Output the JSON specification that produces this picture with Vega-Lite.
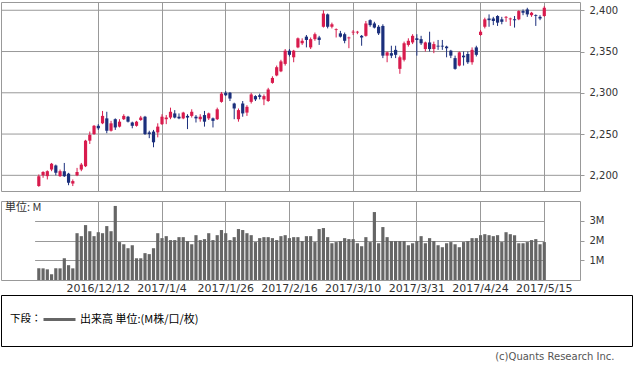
{
 "$schema": "https://vega.github.io/schema/vega-lite/v6.json",
 "padding": {"left": 0, "top": 1, "right": 0, "bottom": 0},
 "background": "white",
 "datasets": {"px": [
  {"d":"2016/11/21","o":2187,"h":2201,"l":2186,"c":2199,"v":0.59},
  {"d":"2016/11/22","o":2200,"h":2205,"l":2197,"c":2204,"v":0.59},
  {"d":"2016/11/23","o":2199,"h":2206,"l":2195,"c":2205,"v":0.54},
  {"d":"2016/11/25","o":2207,"h":2215,"l":2205,"c":2214,"v":0.29},
  {"d":"2016/11/28","o":2212,"h":2213,"l":2200,"c":2203,"v":0.59},
  {"d":"2016/11/29","o":2199,"h":2207,"l":2198,"c":2205,"v":0.59},
  {"d":"2016/11/30","o":2205,"h":2215,"l":2198,"c":2199,"v":1.10},
  {"d":"2016/12/1","o":2202,"h":2203,"l":2188,"c":2191,"v":0.75},
  {"d":"2016/12/2","o":2190,"h":2195,"l":2187,"c":2193,"v":0.59},
  {"d":"2016/12/5","o":2200,"h":2209,"l":2199,"c":2204,"v":2.37},
  {"d":"2016/12/6","o":2207,"h":2215,"l":2205,"c":2213,"v":2.22},
  {"d":"2016/12/7","o":2211,"h":2243,"l":2210,"c":2242,"v":2.78},
  {"d":"2016/12/8","o":2242,"h":2253,"l":2238,"c":2249,"v":2.47},
  {"d":"2016/12/9","o":2250,"h":2261,"l":2249,"c":2260,"v":2.22},
  {"d":"2016/12/12","o":2260,"h":2262,"l":2255,"c":2257,"v":2.42},
  {"d":"2016/12/13","o":2263,"h":2278,"l":2262,"c":2272,"v":2.37},
  {"d":"2016/12/14","o":2269,"h":2277,"l":2251,"c":2254,"v":2.73},
  {"d":"2016/12/15","o":2254,"h":2266,"l":2253,"c":2263,"v":2.47},
  {"d":"2016/12/16","o":2268,"h":2269,"l":2255,"c":2258,"v":3.75},
  {"d":"2016/12/19","o":2259,"h":2268,"l":2258,"c":2265,"v":1.92},
  {"d":"2016/12/20","o":2268,"h":2274,"l":2267,"c":2272,"v":1.81},
  {"d":"2016/12/21","o":2271,"h":2272,"l":2264,"c":2265,"v":1.61},
  {"d":"2016/12/22","o":2264,"h":2265,"l":2257,"c":2260,"v":1.76},
  {"d":"2016/12/23","o":2260,"h":2266,"l":2259,"c":2265,"v":1.10},
  {"d":"2016/12/27","o":2267,"h":2272,"l":2266,"c":2270,"v":1.10},
  {"d":"2016/12/28","o":2271,"h":2272,"l":2249,"c":2250,"v":1.36},
  {"d":"2016/12/29","o":2252,"h":2254,"l":2245,"c":2250,"v":1.31},
  {"d":"2016/12/30","o":2253,"h":2255,"l":2234,"c":2240,"v":1.61},
  {"d":"2017/1/3","o":2252,"h":2263,"l":2246,"c":2259,"v":2.37},
  {"d":"2017/1/4","o":2262,"h":2274,"l":2261,"c":2271,"v":2.12},
  {"d":"2017/1/5","o":2268,"h":2273,"l":2262,"c":2270,"v":2.22},
  {"d":"2017/1/6","o":2270,"h":2282,"l":2268,"c":2277,"v":2.02},
  {"d":"2017/1/9","o":2275,"h":2279,"l":2269,"c":2270,"v":2.02},
  {"d":"2017/1/10","o":2271,"h":2275,"l":2268,"c":2269,"v":2.17},
  {"d":"2017/1/11","o":2269,"h":2277,"l":2268,"c":2276,"v":2.17},
  {"d":"2017/1/12","o":2272,"h":2274,"l":2256,"c":2270,"v":1.97},
  {"d":"2017/1/13","o":2272,"h":2280,"l":2270,"c":2277,"v":1.81},
  {"d":"2017/1/17","o":2271,"h":2273,"l":2264,"c":2269,"v":2.27},
  {"d":"2017/1/18","o":2268,"h":2274,"l":2265,"c":2271,"v":2.02},
  {"d":"2017/1/19","o":2273,"h":2278,"l":2259,"c":2265,"v":2.07},
  {"d":"2017/1/20","o":2269,"h":2276,"l":2267,"c":2275,"v":2.37},
  {"d":"2017/1/23","o":2269,"h":2270,"l":2258,"c":2266,"v":2.02},
  {"d":"2017/1/24","o":2268,"h":2282,"l":2267,"c":2280,"v":2.27},
  {"d":"2017/1/25","o":2289,"h":2301,"l":2288,"c":2299,"v":2.53},
  {"d":"2017/1/26","o":2300,"h":2302,"l":2296,"c":2297,"v":2.37},
  {"d":"2017/1/27","o":2300,"h":2301,"l":2290,"c":2293,"v":2.02},
  {"d":"2017/1/30","o":2287,"h":2288,"l":2268,"c":2281,"v":2.17},
  {"d":"2017/1/31","o":2268,"h":2281,"l":2265,"c":2279,"v":2.58},
  {"d":"2017/2/1","o":2287,"h":2290,"l":2271,"c":2275,"v":2.53},
  {"d":"2017/2/2","o":2276,"h":2285,"l":2272,"c":2283,"v":2.37},
  {"d":"2017/2/3","o":2289,"h":2300,"l":2287,"c":2298,"v":2.27},
  {"d":"2017/2/6","o":2296,"h":2297,"l":2290,"c":2292,"v":1.92},
  {"d":"2017/2/7","o":2297,"h":2299,"l":2292,"c":2295,"v":2.12},
  {"d":"2017/2/8","o":2292,"h":2298,"l":2285,"c":2296,"v":2.17},
  {"d":"2017/2/9","o":2290,"h":2306,"l":2289,"c":2304,"v":2.17},
  {"d":"2017/2/10","o":2312,"h":2320,"l":2311,"c":2318,"v":2.12},
  {"d":"2017/2/13","o":2321,"h":2333,"l":2320,"c":2331,"v":2.02},
  {"d":"2017/2/14","o":2326,"h":2340,"l":2325,"c":2338,"v":2.22},
  {"d":"2017/2/15","o":2335,"h":2353,"l":2333,"c":2351,"v":2.27},
  {"d":"2017/2/16","o":2351,"h":2353,"l":2344,"c":2346,"v":2.12},
  {"d":"2017/2/17","o":2343,"h":2352,"l":2337,"c":2351,"v":2.17},
  {"d":"2017/2/21","o":2355,"h":2367,"l":2354,"c":2366,"v":2.17},
  {"d":"2017/2/22","o":2360,"h":2366,"l":2358,"c":2363,"v":1.97},
  {"d":"2017/2/23","o":2368,"h":2370,"l":2355,"c":2364,"v":2.22},
  {"d":"2017/2/24","o":2355,"h":2367,"l":2353,"c":2365,"v":2.22},
  {"d":"2017/2/27","o":2365,"h":2373,"l":2363,"c":2371,"v":1.92},
  {"d":"2017/2/28","o":2367,"h":2369,"l":2358,"c":2364,"v":2.58},
  {"d":"2017/3/1","o":2380,"h":2400,"l":2379,"c":2396,"v":2.63},
  {"d":"2017/3/2","o":2395,"h":2396,"l":2378,"c":2380,"v":2.17},
  {"d":"2017/3/3","o":2380,"h":2385,"l":2378,"c":2383,"v":1.86},
  {"d":"2017/3/6","o":2376,"h":2378,"l":2367,"c":2377,"v":1.92},
  {"d":"2017/3/7","o":2372,"h":2375,"l":2367,"c":2368,"v":1.97},
  {"d":"2017/3/8","o":2371,"h":2373,"l":2360,"c":2363,"v":2.12},
  {"d":"2017/3/9","o":2366,"h":2368,"l":2354,"c":2367,"v":2.07},
  {"d":"2017/3/10","o":2373,"h":2376,"l":2370,"c":2374,"v":2.07},
  {"d":"2017/3/13","o":2373,"h":2375,"l":2371,"c":2374,"v":1.86},
  {"d":"2017/3/14","o":2369,"h":2370,"l":2357,"c":2367,"v":1.71},
  {"d":"2017/3/15","o":2369,"h":2387,"l":2368,"c":2384,"v":2.17},
  {"d":"2017/3/16","o":2388,"h":2389,"l":2380,"c":2382,"v":1.92},
  {"d":"2017/3/17","o":2384,"h":2386,"l":2378,"c":2379,"v":3.44},
  {"d":"2017/3/20","o":2380,"h":2382,"l":2370,"c":2372,"v":1.86},
  {"d":"2017/3/21","o":2381,"h":2383,"l":2342,"c":2345,"v":2.68},
  {"d":"2017/3/22","o":2345,"h":2350,"l":2337,"c":2349,"v":2.17},
  {"d":"2017/3/23","o":2348,"h":2357,"l":2342,"c":2345,"v":1.97},
  {"d":"2017/3/24","o":2352,"h":2357,"l":2342,"c":2346,"v":1.97},
  {"d":"2017/3/27","o":2329,"h":2345,"l":2323,"c":2343,"v":1.97},
  {"d":"2017/3/28","o":2340,"h":2362,"l":2338,"c":2360,"v":1.97},
  {"d":"2017/3/29","o":2358,"h":2366,"l":2356,"c":2363,"v":1.76},
  {"d":"2017/3/30","o":2361,"h":2371,"l":2359,"c":2369,"v":1.86},
  {"d":"2017/3/31","o":2366,"h":2371,"l":2345,"c":2364,"v":1.97},
  {"d":"2017/4/3","o":2365,"h":2369,"l":2358,"c":2360,"v":2.22},
  {"d":"2017/4/4","o":2353,"h":2362,"l":2350,"c":2361,"v":1.86},
  {"d":"2017/4/5","o":2361,"h":2374,"l":2350,"c":2353,"v":2.12},
  {"d":"2017/4/6","o":2353,"h":2362,"l":2348,"c":2359,"v":1.97},
  {"d":"2017/4/7","o":2357,"h":2364,"l":2352,"c":2356,"v":1.76},
  {"d":"2017/4/10","o":2357,"h":2364,"l":2352,"c":2356,"v":1.66},
  {"d":"2017/4/11","o":2356,"h":2357,"l":2343,"c":2354,"v":1.86},
  {"d":"2017/4/12","o":2351,"h":2352,"l":2342,"c":2345,"v":1.92},
  {"d":"2017/4/13","o":2342,"h":2345,"l":2328,"c":2329,"v":1.81},
  {"d":"2017/4/17","o":2333,"h":2350,"l":2332,"c":2349,"v":1.66},
  {"d":"2017/4/18","o":2345,"h":2350,"l":2333,"c":2343,"v":1.92},
  {"d":"2017/4/19","o":2347,"h":2350,"l":2335,"c":2337,"v":1.97},
  {"d":"2017/4/20","o":2337,"h":2355,"l":2334,"c":2352,"v":2.12},
  {"d":"2017/4/21","o":2355,"h":2357,"l":2344,"c":2346,"v":2.12},
  {"d":"2017/4/24","o":2370,"h":2376,"l":2369,"c":2374,"v":2.27},
  {"d":"2017/4/25","o":2380,"h":2391,"l":2378,"c":2389,"v":2.32},
  {"d":"2017/4/26","o":2390,"h":2395,"l":2380,"c":2388,"v":2.27},
  {"d":"2017/4/27","o":2390,"h":2392,"l":2382,"c":2387,"v":2.22},
  {"d":"2017/4/28","o":2393,"h":2394,"l":2381,"c":2385,"v":2.27},
  {"d":"2017/5/1","o":2389,"h":2392,"l":2383,"c":2386,"v":1.92},
  {"d":"2017/5/2","o":2391,"h":2393,"l":2386,"c":2392,"v":2.42},
  {"d":"2017/5/3","o":2389,"h":2391,"l":2381,"c":2390,"v":2.32},
  {"d":"2017/5/4","o":2389,"h":2393,"l":2379,"c":2388,"v":2.27},
  {"d":"2017/5/5","o":2389,"h":2400,"l":2388,"c":2399,"v":1.86},
  {"d":"2017/5/8","o":2399,"h":2401,"l":2394,"c":2397,"v":1.86},
  {"d":"2017/5/9","o":2401,"h":2403,"l":2392,"c":2395,"v":1.92},
  {"d":"2017/5/10","o":2394,"h":2398,"l":2392,"c":2397,"v":2.02},
  {"d":"2017/5/11","o":2394,"h":2395,"l":2381,"c":2393,"v":2.07},
  {"d":"2017/5/12","o":2392,"h":2394,"l":2388,"c":2390,"v":1.81},
  {"d":"2017/5/15","o":2393,"h":2405,"l":2392,"c":2403,"v":1.92}
 ]},
 "title": {"text": "(c)Quants Research Inc.", "orient": "bottom", "anchor": "end", "dx": -18, "offset": 5, "fontSize": 10, "font": "DejaVu Sans", "fontWeight": "normal", "color": "#555"},
 "spacing": 0,
 "vconcat": [
  {
   "spacing": 8,
   "vconcat": [
    {
     "width": 579, "height": 189,
     "layer": [
      {"data": {"values": [{"g": 2200}, {"g": 2250}, {"g": 2300}, {"g": 2350}, {"g": 2400}]},
       "mark": {"type": "rule", "color": "#999999", "strokeWidth": 1},
       "encoding": {
        "y": {"field": "g", "type": "quantitative",
              "scale": {"domain": [2181, 2410], "zero": false, "nice": false},
              "axis": {"orient": "right", "values": [2200, 2250, 2300, 2350, 2400], "format": ",d", "grid": false, "labelOverlap": false, "tickSize": 4, "labelPadding": 5, "title": null}}}},
      {"data": {"name": "px"},
       "mark": {"type": "rule", "strokeWidth": 1},
       "encoding": {
        "x": {"field": "d", "type": "ordinal", "sort": null,
              "scale": {"type": "band", "paddingInner": 0, "paddingOuter": 0, "range": [35.7, 545.4]},
              "axis": {"values": ["2016/12/12","2017/1/4","2017/1/26","2017/2/16","2017/3/10","2017/3/31","2017/4/24","2017/5/15"],
                       "labels": false, "ticks": false, "domain": false, "grid": true, "bandPosition": 0.5, "title": null}},
        "y": {"field": "l", "type": "quantitative"},
        "y2": {"field": "h"},
        "color": {"condition": {"test": "datum.c >= datum.o", "value": "#d81b4d"}, "value": "#1b2f7c"}}},
      {"data": {"name": "px"},
       "mark": {"type": "bar", "width": {"band": 0.75}},
       "encoding": {
        "x": {"field": "d", "type": "ordinal", "sort": null},
        "y": {"field": "o", "type": "quantitative"},
        "y2": {"field": "c"},
        "color": {"condition": {"test": "datum.c >= datum.o", "value": "#d81b4d"}, "value": "#1b2f7c"}}}
     ]
    },
    {
     "width": 579, "height": 79,
     "data": {"name": "px"},
     "title": {"text": "単位: M", "anchor": "start", "offset": -12, "dx": 4, "fontSize": 11, "font": "Noto Sans CJK JP", "fontWeight": "normal", "color": "#333"},
     "mark": {"type": "bar", "width": {"band": 0.75}},
     "encoding": {
      "x": {"field": "d", "type": "ordinal", "sort": null,
            "scale": {"type": "band", "paddingInner": 0, "paddingOuter": 0, "range": [35.7, 545.4]},
            "axis": {"values": ["2016/12/12","2017/1/4","2017/1/26","2017/2/16","2017/3/10","2017/3/31","2017/4/24","2017/5/15"],
                     "labels": true, "ticks": false, "domain": false, "grid": true, "bandPosition": 0.5, "labelPadding": 2, "labelFontSize": 11, "labelAngle": 0, "title": null}},
      "y": {"field": "v", "type": "quantitative",
            "scale": {"domain": [0, 4], "nice": false},
            "axis": {"orient": "right", "values": [1, 2, 3], "labelExpr": "datum.value + 'M'", "grid": true, "labelOverlap": false, "tickSize": 4, "labelPadding": 5, "title": null}},
      "color": {"datum": "出来高 単位:(M株/口/枚)", "type": "nominal",
                "scale": {"range": ["#666666"]},
                "legend": {"orient": "none", "legendX": 9, "legendY": 300, "direction": "horizontal", "title": "下段：", "titleOrient": "left", "titleAnchor": "middle", "titleBaseline": "top",
                           "titleFont": "Noto Sans CJK JP", "titleFontSize": 10.5, "titleFontWeight": "normal", "titleColor": "#000", "titlePadding": 0,
                           "labelFont": "Noto Sans CJK JP", "labelFontSize": 11, "labelColor": "#000", "labelOffset": 3,
                           "symbolType": "stroke", "symbolSize": 1024, "symbolStrokeWidth": 3, "symbolStrokeColor": "#666666", "padding": 0}}
     }
    }
   ]
  },
  {
   "width": 631, "height": 51,
   "data": {"values": [{}]},
   "view": {"stroke": "#000000", "strokeWidth": 1},
   "mark": {"type": "text"},
   "encoding": {"text": {"value": ""}}
  }
 ],
 "config": {
  "view": {"stroke": "#999999", "strokeWidth": 1},
  "axis": {"gridColor": "#999999", "gridOpacity": 1, "gridWidth": 1, "tickColor": "#999999", "labelFont": "DejaVu Sans", "labelFontSize": 10, "labelColor": "#333333", "domain": false, "labelOverlap": false}
 }
}
